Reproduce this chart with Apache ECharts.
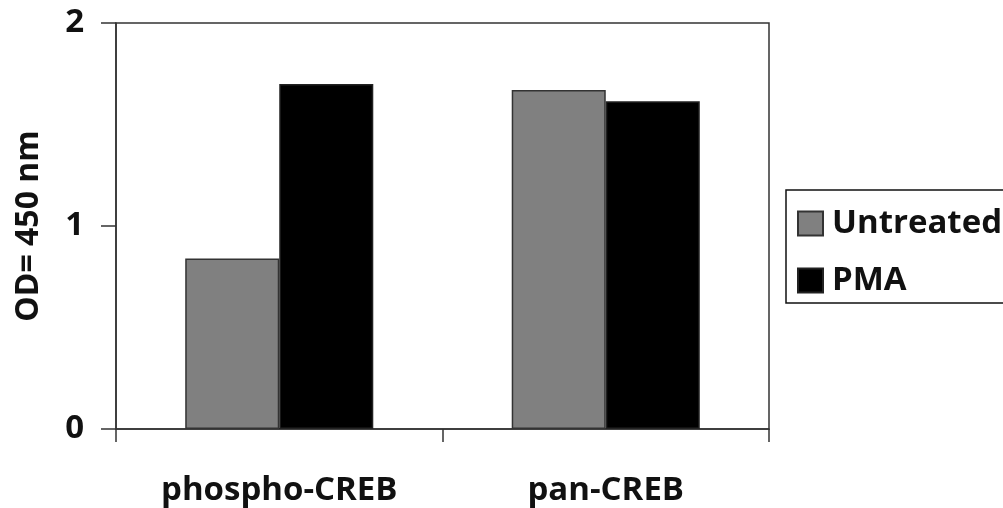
<!DOCTYPE html>
<html>
<head>
<meta charset="utf-8">
<script src="https://cdn.jsdelivr.net/npm/echarts@6/dist/echarts.min.js"></script>
<style>
html,body{margin:0;padding:0;background:#fff;}
#chart{width:1003px;height:508px;}
</style>
</head>
<body>
<div id="chart"></div>
<script>
const categories = ['phospho-CREB', 'pan-CREB'];
const untreated = [0.84, 1.67];
const pma = [1.70, 1.615];
const yTicks = [0, 1, 2];

const FONT = '"Open Sans", "Noto Sans", sans-serif';
const chart = echarts.init(document.getElementById('chart'), null, {renderer: 'canvas'});
chart.setOption({
  animation: false,
  backgroundColor: '#fff',
  grid: {
    left: 116, right: 234, top: 23, bottom: 79,
    show: true, borderColor: '#333', borderWidth: 1.5, containLabel: false
  },
  legend: {
    orient: 'vertical',
    left: 786, top: 190,
    padding: [17, 60, 6, 11],
    itemWidth: 25, itemHeight: 24, itemGap: 24,
    borderColor: '#111', borderWidth: 1.5,
    icon: 'rect',
    textStyle: {fontFamily: FONT, fontWeight: 'bold', fontSize: 33, color: '#111', lineHeight: 24, padding: [0,0,0,4]},
    data: ['Untreated', 'PMA']
  },
  xAxis: {
    type: 'category',
    data: categories,
    axisLine: {show: true, lineStyle: {color: '#333', width: 1.5}},
    axisTick: {show: true, length: 13, lineStyle: {color: '#333', width: 1.5}},
    axisLabel: {fontFamily: FONT, fontWeight: 'bold', fontSize: 33, color: '#111', margin: 45}
  },
  yAxis: {
    type: 'value',
    min: 0, max: 2, interval: 1,
    name: 'OD= 450 nm',
    nameLocation: 'middle',
    nameRotate: 90,
    nameGap: 71,
    nameTextStyle: {fontFamily: FONT, fontWeight: 'bold', fontSize: 32, color: '#111'},
    axisLine: {show: true, lineStyle: {color: '#333', width: 1.5}},
    axisTick: {show: true, length: 15, lineStyle: {color: '#333', width: 1.5}},
    splitLine: {show: false},
    axisLabel: {fontFamily: FONT, fontWeight: 'bold', fontSize: 33, color: '#111', margin: 32,
      formatter: v => yTicks.includes(v) ? String(v) : ''}
  },
  series: [
    {
      name: 'Untreated', type: 'bar', data: untreated,
      barWidth: '28.8%', barGap: '0%',
      itemStyle: {color: '#808080', borderColor: '#333', borderWidth: 1.5}
    },
    {
      name: 'PMA', type: 'bar', data: pma,
      barWidth: '28.8%', barGap: '0%',
      itemStyle: {color: '#000', borderColor: '#222', borderWidth: 1.5}
    }
  ]
});
</script>
</body>
</html>
